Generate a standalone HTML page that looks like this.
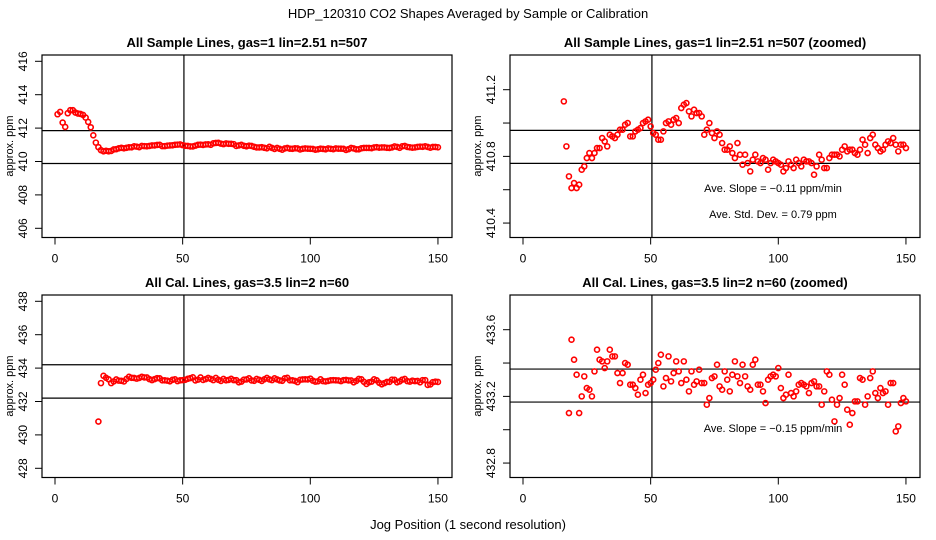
<!DOCTYPE html>
<html><head><meta charset="utf-8">
<style>
html,body{margin:0;padding:0;background:#fff;width:936px;height:540px;overflow:hidden;}
svg{display:block;font-family:"Liberation Sans",sans-serif;}
</style></head>
<body>
<svg id="chart" width="936" height="540" viewBox="0 0 936 540" xmlns="http://www.w3.org/2000/svg">
<rect x="0" y="0" width="936" height="540" fill="#fff"/>
<text x="468" y="18" text-anchor="middle" font-size="13">HDP_120310  CO2 Shapes Averaged by Sample or Calibration</text>
<text x="468" y="529" text-anchor="middle" font-size="13">Jog Position (1 second resolution)</text>
</svg>
<script>
// shared x categories (jog positions)
const xTicks = [0, 50, 100, 150];
const sampleHead = [412.83,412.97,412.33,412.07,412.89,413.07,413.07,412.93,412.87,412.85,412.79,412.63,412.37,412.05,411.57];
const sampleVals = [411.13,410.86,410.68,410.61,410.64,410.61,410.63,410.72,410.74,410.79,410.82,410.79,410.82,410.85,410.85,410.91,410.89,410.86,410.93,410.92,410.91,410.93,410.96,410.96,410.99,411.0,410.92,410.92,410.95,410.96,410.97,411.0,411.01,411.02,410.98,410.94,410.93,410.90,410.90,410.95,411.0,411.01,410.99,411.02,411.03,411.0,411.09,411.11,411.12,411.07,411.04,411.08,411.06,411.06,411.04,410.93,410.96,411.0,410.94,410.91,410.95,410.93,410.88,410.84,410.84,410.86,410.82,410.79,410.88,410.81,410.75,410.81,410.76,410.71,410.78,410.81,410.77,410.76,410.79,410.78,410.72,410.76,410.78,410.77,410.76,410.75,410.71,410.73,410.77,410.75,410.73,410.78,410.76,410.74,410.78,410.77,410.77,410.76,410.69,410.74,410.81,410.78,410.73,410.73,410.79,410.81,410.81,410.81,410.80,410.84,410.86,410.83,410.84,410.84,410.82,410.81,410.84,410.90,410.87,410.82,410.91,410.93,410.87,410.85,410.83,410.84,410.87,410.89,410.88,410.91,410.87,410.83,410.87,410.87,410.85];
const sampleStart = 16;
const calHead = [430.8];
const calVals = [433.10,433.54,433.42,433.33,433.10,433.20,433.32,433.25,433.24,433.20,433.35,433.48,433.42,433.41,433.37,433.41,433.48,433.44,433.44,433.34,433.28,433.34,433.40,433.39,433.27,433.27,433.25,433.21,433.30,433.33,433.22,433.27,433.28,433.30,433.36,433.40,433.45,433.26,433.31,433.44,433.29,433.34,433.41,433.35,433.28,433.41,433.30,433.23,433.35,433.27,433.29,433.36,433.28,433.28,433.15,433.19,433.31,433.32,433.39,433.26,433.24,433.35,433.30,433.23,433.33,433.41,433.32,433.28,433.39,433.32,433.26,433.24,433.39,433.42,433.27,433.27,433.23,433.16,433.30,433.32,433.33,433.32,433.37,433.25,433.19,433.21,433.33,433.22,433.20,433.23,433.27,433.28,433.27,433.26,433.22,433.28,433.29,433.26,433.26,433.15,433.23,433.35,433.33,433.18,433.05,433.15,433.19,433.33,433.27,433.12,433.03,433.10,433.17,433.17,433.31,433.30,433.15,433.20,433.31,433.35,433.22,433.19,433.25,433.22,433.23,433.15,433.28,433.28,432.99,433.02,433.16,433.19,433.17];
const calStart = 17;
// panel axis settings
const p1Ticks = [406,408,410,412,414,416];
const p2Ticks = [410.4,410.6,410.8,411.0,411.2];
const p2Labels = ["410.4","","410.8","","411.2"];
const p3Ticks = [428,430,432,434,436,438];
const p4Ticks = [432.8,433.0,433.2,433.4,433.6];
const p4Labels = ["432.8","","433.2","","433.6"];
const p1HLines = [411.85,409.88];
const p2HLines = [410.956,410.758];
const p3HLines = [434.2,432.2];
const p4HLines = [433.364,433.166];

const NS = "http://www.w3.org/2000/svg";
const svg = document.getElementById('chart');
function mk(tag, attrs, parent){const e=document.createElementNS(NS,tag);for(const k in attrs)e.setAttribute(k,attrs[k]);(parent||svg).appendChild(e);return e;}

function panel(o){
  const g = mk('g',{});
  
  
  const L=o.left, T=o.top, R=L+410, B=T+182.5;
  const xs = v => L + 13 + v*2.553;
  const ys = v => o.y0px + (o.ymax - v)*o.pxPer;
  const t = mk('text',{x:(L+R)/2,y:T-8,'text-anchor':'middle','font-size':13,'font-weight':'bold'},g);
  t.textContent = o.title;
  
  
  const clip = mk('clipPath',{id:o.name+'-clip'},g);
  mk('rect',{x:L,y:T,width:410,height:182.5},clip);
  const data = mk('g',{'clip-path':'url(#'+o.name+'-clip)'},g);
  o.hlines.forEach(h=>{
    const l = mk('line',{x1:L,x2:R,y1:ys(h),y2:ys(h),stroke:'#000','stroke-width':1.2},data);
    
    
  });
  const vl = mk('line',{x1:xs(50.5),x2:xs(50.5),y1:T,y2:B,stroke:'#000','stroke-width':1.2},data);
  
  
  o.series.forEach(s=>{
    s.vals.forEach((v,i)=>{
      const c = mk('circle',{cx:xs(s.start+i),cy:ys(v),r:2.5,fill:'none',stroke:'#f00','stroke-width':1.6},data);
      
      
    });
  });
  const box = mk('rect',{x:L,y:T,width:410,height:182.5,fill:'none',stroke:'#000','stroke-width':1.2},g);
  
  
  xTicks.forEach(v=>{
    mk('line',{x1:xs(v),x2:xs(v),y1:B,y2:B+7,stroke:'#000','stroke-width':1},g);
    const tx = mk('text',{x:xs(v),y:B+25,'text-anchor':'middle','font-size':12},g);
    tx.textContent = v;
    
    
  });
  o.yticks.forEach((v,i)=>{
    const y = ys(v);
    mk('line',{x1:L-7,x2:L,y1:y,y2:y,stroke:'#000','stroke-width':1},g);
    const lab = o.ylabels ? o.ylabels[i] : String(v);
    if(lab){
      const ty = mk('text',{x:0,y:0,'text-anchor':'middle','font-size':12,transform:'translate('+(L-15)+','+y+') rotate(-90)'},g);
      ty.textContent = lab;
      
      
    }
  });
  const yt = mk('text',{x:0,y:0,'text-anchor':'middle','font-size':11,transform:'translate('+(L-29)+','+(T+91)+') rotate(-90)'},g);
  yt.textContent = 'approx. ppm';
  
  
  (o.notes||[]).forEach(n=>{
    const nt = mk('text',{x:L+n.dx,y:T+n.dy,'text-anchor':'middle','font-size':11},g);
    nt.textContent = n.t;
    
    
  });
}

panel({name:'panel-sample-lines',left:42,top:55,title:'All Sample Lines, gas=1 lin=2.51 n=507',ymax:416,y0px:61.3,pxPer:16.7,yticks:p1Ticks,hlines:p1HLines,
  series:[{start:1,vals:sampleHead},{start:sampleStart,vals:sampleVals}]});
panel({name:'panel-sample-lines-zoomed',left:510,top:55,title:'All Sample Lines, gas=1 lin=2.51 n=507 (zoomed)',ymax:411.2,y0px:89.7,pxPer:166.7,yticks:p2Ticks,ylabels:p2Labels,hlines:p2HLines,
  series:[{start:1,vals:sampleHead},{start:sampleStart,vals:sampleVals}],
  notes:[{dx:263,dy:137,t:'Ave. Slope =  \u22120.11  ppm/min'},{dx:263,dy:163,t:'Ave. Std. Dev. =  0.79  ppm'}]});
panel({name:'panel-cal-lines',left:42,top:295,title:'All Cal. Lines, gas=3.5 lin=2 n=60',ymax:438,y0px:301.3,pxPer:16.7,yticks:p3Ticks,hlines:p3HLines,
  series:[{start:calStart,vals:calHead},{start:calStart+1,vals:calVals}]});
panel({name:'panel-cal-lines-zoomed',left:510,top:295,title:'All Cal. Lines, gas=3.5 lin=2 n=60 (zoomed)',ymax:433.6,y0px:329.7,pxPer:166.7,yticks:p4Ticks,ylabels:p4Labels,hlines:p4HLines,
  series:[{start:calStart,vals:calHead},{start:calStart+1,vals:calVals}],
  notes:[{dx:263,dy:137,t:'Ave. Slope =  \u22120.15  ppm/min'}]});
</script>
</body></html>
